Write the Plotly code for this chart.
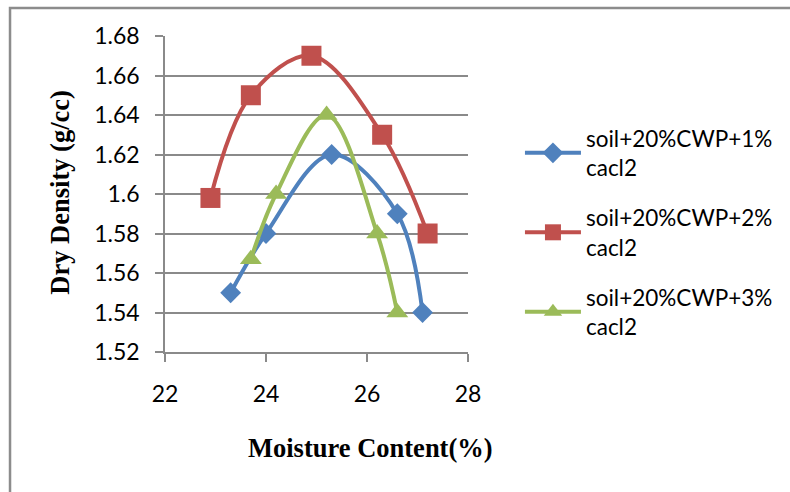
import plotly.graph_objects as go

# Data
x_1pct = [23.3, 24.0, 25.3, 26.6, 27.1]
y_1pct = [1.550, 1.580, 1.620, 1.590, 1.540]

x_2pct = [22.9, 23.7, 24.9, 26.3, 27.2]
y_2pct = [1.598, 1.650, 1.670, 1.630, 1.580]

x_3pct = [23.7, 24.2, 25.2, 26.2, 26.6]
y_3pct = [1.567, 1.600, 1.640, 1.580, 1.540]

series_names = ["soil+20%CWP+1%<br>cacl2", "soil+20%CWP+2%<br>cacl2", "soil+20%CWP+3%<br>cacl2"]

x_ticks = [22, 24, 26, 28]
x_tick_labels = ["22", "24", "26", "28"]
y_ticks = [1.52, 1.54, 1.56, 1.58, 1.60, 1.62, 1.64, 1.66, 1.68]
y_tick_labels = ["1.52", "1.54", "1.56", "1.58", "1.6", "1.62", "1.64", "1.66", "1.68"]

x_title = "Moisture Content(%)"
y_title = "Dry Density (g/cc)"

colors = ["#4F81BD", "#C0504D", "#9BBB59"]
symbols = ["diamond", "square", "triangle-up"]
msizes = [16, 20, 19]

fig = go.Figure()
for i, (xs, ys) in enumerate([(x_1pct, y_1pct), (x_2pct, y_2pct), (x_3pct, y_3pct)]):
    fig.add_trace(go.Scatter(
        x=xs, y=ys, name=series_names[i], mode="lines+markers",
        line=dict(color=colors[i], width=4, shape="spline", smoothing=1.0),
        marker=dict(symbol=symbols[i], size=msizes[i], color=colors[i]),
        legendgroup=str(i),
    ))

grid = "#8a8a8a"
fig.update_layout(
    width=790, height=492,
    margin=dict(l=165, r=320, t=36, b=140),
    paper_bgcolor="white", plot_bgcolor="white",
    font=dict(family="Lato, Carlito, Liberation Sans, sans-serif", size=23, color="black"),
    showlegend=True,
    legend=dict(
        x=(782 - 165) / 305, y=0.378, xanchor="right", yanchor="middle",
        font=dict(size=22.5), traceorder="grouped", tracegroupgap=18,
        itemwidth=56, bgcolor="rgba(0,0,0,0)",
    ),
    xaxis=dict(
        range=[22, 28], tickvals=x_ticks, ticktext=x_tick_labels,
        showgrid=False, zeroline=False, showline=True, linecolor=grid, linewidth=1.5,
        ticks="outside", ticklen=8, tickcolor=grid, tickwidth=1.5,
        ticklabelstandoff=13,
    ),
    yaxis=dict(
        range=[1.52, 1.68], tickvals=y_ticks, ticktext=y_tick_labels,
        showgrid=True, gridcolor=grid, gridwidth=1.5, zeroline=False,
        showline=True, linecolor=grid, linewidth=1.5,
        ticks="outside", ticklen=8, tickcolor=grid, tickwidth=1.5,
        ticklabelstandoff=11,
    ),
    annotations=[
        dict(text="<b>" + x_title + "</b>", xref="paper", yref="paper",
             x=(372 - 165) / 305, y=(352 - 448) / 316, xanchor="center", yanchor="middle",
             showarrow=False, font=dict(family="Liberation Serif, Times New Roman, serif", size=26.5)),
        dict(text="<b>" + y_title + "</b>", xref="paper", yref="paper",
             x=(59 - 165) / 305, y=(352 - 192) / 316, xanchor="center", yanchor="middle",
             textangle=-90, showarrow=False,
             font=dict(family="Liberation Serif, Times New Roman, serif", size=26.5)),
    ],
    shapes=[
        dict(type="rect", xref="paper", yref="paper",
             x0=(9 - 165) / 305, x1=(800 - 470) / 305 + 1,
             y0=(352 - 500) / 316, y1=(352 - 8) / 316,
             line=dict(color="#8c8c8c", width=2.5), fillcolor="rgba(0,0,0,0)", layer="below"),
    ],
)

fig.write_html("out.html")
